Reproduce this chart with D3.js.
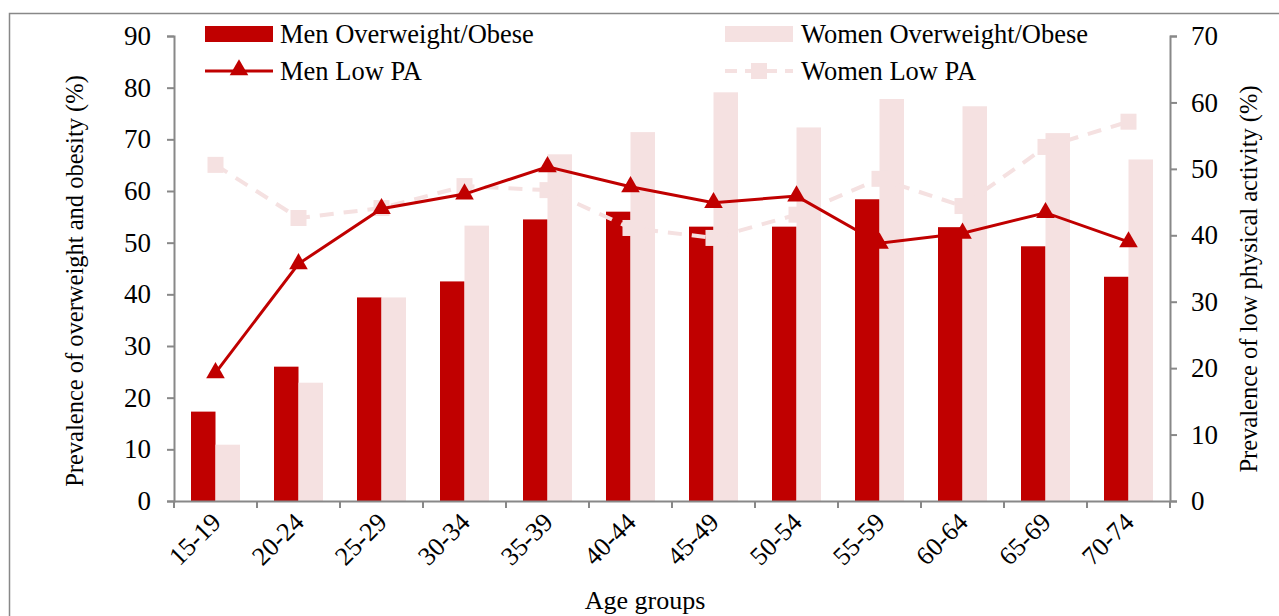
<!DOCTYPE html>
<html>
<head>
<meta charset="utf-8">
<script src="https://cdn.jsdelivr.net/npm/d3@7"></script>
<style>
  body { margin: 0; background: #fff; }
  svg text { font-family: "Liberation Serif", "Times New Roman", serif; fill: #000; }
</style>
</head>
<body>
<script>
var ageGroups = ['15-19','20-24','25-29','30-34','35-39','40-44','45-49','50-54','55-59','60-64','65-69','70-74'];
var menOverweight = [17.3, 26, 39.4, 42.5, 54.5, 56, 53.1, 53.1, 58.4, 53, 49.3, 43.4];
var womenOverweight = [10.9, 22.9, 39.4, 53.3, 67.1, 71.4, 79.1, 72.3, 77.8, 76.4, 71.2, 66.1];
var menLowPA = [19.3, 35.7, 44, 46.2, 50.3, 47.3, 44.9, 45.9, 38.8, 40.3, 43.4, 39];
var womenLowPA = [50.6, 42.6, 44.1, 47.4, 46.8, 41.1, 39.6, 43.1, 48.5, 44.4, 53.3, 57.1];
var leftTicks = [0,10,20,30,40,50,60,70,80,90];
var rightTicks = [0,10,20,30,40,50,60,70];

var width = 1279, height = 616;
var red = '#C00000', pink = '#F5E1E1';
var plotLeft = 174, plotRight = 1170, plotTop = 36, plotBottom = 501;

var svg = d3.select('body').append('svg')
	.attr('width', width)
	.attr('height', height);

// outer frame
svg.append('rect')
	.attr('x', 9.5).attr('y', 13.5)
	.attr('width', 1290).attr('height', 620)
	.attr('fill', 'none')
	.attr('stroke', '#888').attr('stroke-width', 1.5);

var x = d3.scaleBand().domain(ageGroups).range([plotLeft, plotRight]).paddingInner(0).paddingOuter(0);
var bw = 24.5;
var yL = d3.scaleLinear().domain([0, 90]).range([plotBottom, plotTop]);
var yR = d3.scaleLinear().domain([0, 70]).range([plotBottom, plotTop]);

// bars
svg.selectAll('rect.men')
	.data(menOverweight)
	.enter().append('rect')
	.attr('class', 'men')
	.attr('x', function(d,i) { return x(ageGroups[i]) + x.bandwidth()/2 - bw; })
	.attr('y', function(d) { return yL(d); })
	.attr('width', bw)
	.attr('height', function(d) { return plotBottom - yL(d); })
	.attr('fill', red);

svg.selectAll('rect.women')
	.data(womenOverweight)
	.enter().append('rect')
	.attr('class', 'women')
	.attr('x', function(d,i) { return x(ageGroups[i]) + x.bandwidth()/2; })
	.attr('y', function(d) { return yL(d); })
	.attr('width', bw)
	.attr('height', function(d) { return plotBottom - yL(d); })
	.attr('fill', pink);

// axes
var axisColor = '#888';
var gl = svg.append('g').attr('transform', 'translate(' + plotLeft + ',0)')
	.call(d3.axisLeft(yL).tickValues(leftTicks).tickSize(7).tickPadding(16));
var gr = svg.append('g').attr('transform', 'translate(' + plotRight + ',0)')
	.call(d3.axisRight(yR).tickValues(rightTicks).tickSize(7).tickPadding(14));
var gb = svg.append('g').attr('transform', 'translate(0,' + plotBottom + ')')
	.call(d3.axisBottom(x).tickSize(0).tickFormat(''));

[gl, gr, gb].forEach(function(g) {
	g.select('.domain').attr('stroke', axisColor).attr('stroke-width', 2);
	g.selectAll('.tick line').attr('stroke', axisColor).attr('stroke-width', 2);
	g.selectAll('.tick text').attr('font-size', 27).attr('font-family', '"Liberation Serif", serif');
});

// category boundary ticks on x axis
var bounds = ageGroups.map(function(a) { return x(a); }).concat([plotRight]);
svg.selectAll('line.xtick')
	.data(bounds)
	.enter().append('line')
	.attr('x1', function(d) { return d; }).attr('x2', function(d) { return d; })
	.attr('y1', plotBottom).attr('y2', plotBottom + 7)
	.attr('stroke', axisColor).attr('stroke-width', 2);

// x labels rotated
svg.selectAll('text.xlab')
	.data(ageGroups)
	.enter().append('text')
	.attr('class', 'xlab')
	.attr('transform', function(d) {
		return 'translate(' + (x(d) + x.bandwidth()/2 - 6) + ',' + (plotBottom + 10) + ') rotate(-45)';
	})
	.attr('text-anchor', 'end')
	.attr('dy', '0.7em')
	.attr('font-size', 26)
	.text(function(d) { return d; });

// lines
var lineL = d3.line()
	.x(function(d,i) { return x(ageGroups[i]) + x.bandwidth()/2; })
	.y(function(d) { return yR(d); });

svg.append('path')
	.datum(womenLowPA)
	.attr('d', lineL)
	.attr('fill', 'none')
	.attr('stroke', pink).attr('stroke-width', 4)
	.attr('stroke-dasharray', '14,10');

svg.selectAll('rect.wpa')
	.data(womenLowPA)
	.enter().append('rect')
	.attr('class', 'wpa')
	.attr('x', function(d,i) { return x(ageGroups[i]) + x.bandwidth()/2 - 8; })
	.attr('y', function(d) { return yR(d) - 8; })
	.attr('width', 16).attr('height', 16)
	.attr('fill', pink);

svg.append('path')
	.datum(menLowPA)
	.attr('d', lineL)
	.attr('fill', 'none')
	.attr('stroke', red).attr('stroke-width', 3);

var tri = d3.symbol().type(d3.symbolTriangle).size(150);
svg.selectAll('path.mpa')
	.data(menLowPA)
	.enter().append('path')
	.attr('class', 'mpa')
	.attr('d', tri)
	.attr('transform', function(d,i) {
		return 'translate(' + (x(ageGroups[i]) + x.bandwidth()/2) + ',' + yR(d) + ')';
	})
	.attr('fill', red);

// legend
var lg = svg.append('g');
lg.append('rect').attr('x', 205).attr('y', 26).attr('width', 68).attr('height', 16).attr('fill', red);
lg.append('text').attr('x', 280).attr('y', 43).attr('font-size', 26.5).text('Men Overweight/Obese');
lg.append('line').attr('x1', 205).attr('x2', 273).attr('y1', 71).attr('y2', 71).attr('stroke', red).attr('stroke-width', 3);
lg.append('path').attr('d', tri).attr('transform', 'translate(239,70)').attr('fill', red);
lg.append('text').attr('x', 280).attr('y', 80).attr('font-size', 26.5).text('Men Low PA');

lg.append('rect').attr('x', 725).attr('y', 26).attr('width', 68).attr('height', 16).attr('fill', pink);
lg.append('text').attr('x', 801).attr('y', 43).attr('font-size', 26.5).text('Women Overweight/Obese');
lg.append('line').attr('x1', 725).attr('x2', 793).attr('y1', 71).attr('y2', 71).attr('stroke', pink).attr('stroke-width', 4).attr('stroke-dasharray', '12,8');
lg.append('rect').attr('x', 751).attr('y', 63).attr('width', 16).attr('height', 16).attr('fill', pink);
lg.append('text').attr('x', 801).attr('y', 80).attr('font-size', 26.5).text('Women Low PA');

// axis titles
svg.append('text')
	.attr('transform', 'translate(83,281) rotate(-90)')
	.attr('text-anchor', 'middle')
	.attr('font-size', 24.5)
	.text('Prevalence of overweight and obesity (%)');
svg.append('text')
	.attr('transform', 'translate(1257,279) rotate(-90)')
	.attr('text-anchor', 'middle')
	.attr('font-size', 24.5)
	.text('Prevalence of low physical activity (%)');
svg.append('text')
	.attr('x', 645).attr('y', 609)
	.attr('text-anchor', 'middle')
	.attr('font-size', 26)
	.text('Age groups');
</script>
</body>
</html>
